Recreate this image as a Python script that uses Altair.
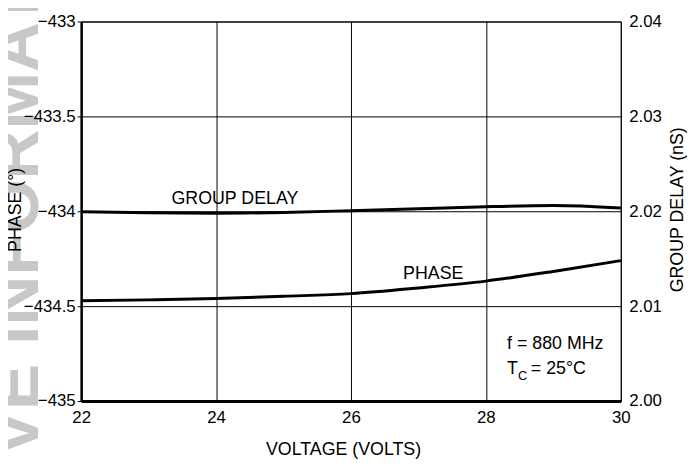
import altair as alt
import pandas as pd

# ---- data ----
voltage = [22, 23, 24, 25, 26, 27, 28, 29, 30]
phase_deg = [-434.472, -434.467, -434.460, -434.448, -434.434, -434.404, -434.368, -434.317, -434.260]
group_delay_ns = [2.01996, 2.01984, 2.01979, 2.01988, 2.02006, 2.02026, 2.02048, 2.02060, 2.02034]

x_ticks = [22, 24, 26, 28, 30]
phase_ticks = [-435, -434.5, -434, -433.5, -433]
delay_ticks = [2.00, 2.01, 2.02, 2.03, 2.04]

curve_text = ["GROUP DELAY", "PHASE"]
curve_x = [24.28, 27.22]
curve_y = [-433.936, -434.329]
cond_text = ["f = 880 MHz", "T", "= 25°C"]
cond_x = [28.315, 28.315, 28.667]
cond_y = [-434.700, -434.830, -434.830]
sub_text = ["C"]
sub_x = [28.476]
sub_y = [-434.866]

FONT = "Liberation Sans, Arial, sans-serif"

df = pd.DataFrame({"V": voltage, "phase": phase_deg, "delay": group_delay_ns})
curve_notes = pd.DataFrame({"t": curve_text, "x": curve_x, "y": curve_y})
cond_notes = pd.DataFrame({"t": cond_text, "x": cond_x, "y": cond_y})
subs = pd.DataFrame({"t": sub_text, "x": sub_x, "y": sub_y})

xscale = alt.Scale(domain=[22, 30], nice=False, zero=False)
yscale_phase = alt.Scale(domain=[-435, -433], nice=False, zero=False)
yscale_delay = alt.Scale(domain=[2.00, 2.04], nice=False, zero=False)

x_enc = alt.X("V:Q", scale=xscale, axis=alt.Axis(
    values=x_ticks, format="d", title="VOLTAGE (VOLTS)", grid=True, tickSize=0,
    labelPadding=9, domainWidth=3, titleX=265, titleY=54,
    titleAlign="center", titleBaseline="alphabetic", zindex=1))

wm = alt.Chart(pd.DataFrame({"w": ["ARCHIVE INFORMATION"]})).mark_text(
    angle=270, fontSize=70, font="Liberation Sans", fontWeight="bold",
    color="#c8c8c8", align="center", baseline="alphabetic"
).encode(x=alt.value(-44), y=alt.value(250), text="w:N")

phase_line = alt.Chart(df).mark_line(color="black", strokeWidth=3, interpolate="monotone").encode(
    x=x_enc,
    y=alt.Y("phase:Q", scale=yscale_phase, axis=alt.Axis(
        values=phase_ticks, format="~g", title="PHASE (°)", grid=True,
        tickSize=4, labelPadding=2, domainWidth=2.5, zindex=1,
        titleX=-61, titleY=190, titleBaseline="alphabetic", titleAngle=270)),
)

curve_layer = alt.Chart(curve_notes).mark_text(
    font=FONT, fontSize=18, color="black", baseline="middle", align="center").encode(
    x=alt.X("x:Q", scale=xscale),
    y=alt.Y("y:Q", scale=yscale_phase),
    text="t:N",
)

cond_layer = alt.Chart(cond_notes).mark_text(
    font=FONT, fontSize=18, color="black", baseline="middle", align="left").encode(
    x=alt.X("x:Q", scale=xscale),
    y=alt.Y("y:Q", scale=yscale_phase),
    text="t:N",
)

sub_layer = alt.Chart(subs).mark_text(
    font=FONT, fontSize=13, color="black", baseline="middle", align="left").encode(
    x=alt.X("x:Q", scale=xscale),
    y=alt.Y("y:Q", scale=yscale_phase),
    text="t:N",
)

delay_line = alt.Chart(df).mark_line(color="black", strokeWidth=3, interpolate="monotone").encode(
    x=alt.X("V:Q", scale=xscale),
    y=alt.Y("delay:Q", scale=yscale_delay, axis=alt.Axis(
        orient="right", values=delay_ticks, format=".2f", title="GROUP DELAY (nS)",
        grid=False, tickSize=0, labelPadding=8, domain=False, zindex=1,
        titleX=62, titleY=190, titleAngle=270, titleBaseline="alphabetic")),
)

left = alt.layer(wm, phase_line, curve_layer, cond_layer, sub_layer)
chart = alt.layer(left, delay_line).resolve_scale(y="independent").properties(
    width=546, height=384,
    autosize=alt.AutoSizeParams(type="none"),
    padding={"left": 74, "top": 11, "right": 67, "bottom": 57},
).configure_view(stroke="black", strokeWidth=1).configure_axis(
    labelFont=FONT, titleFont=FONT, labelFontSize=17, titleFontSize=18,
    titleFontWeight="normal", labelColor="black", titleColor="black",
    domainColor="black", gridColor="black", gridOpacity=1, gridWidth=1,
    tickColor="black", labelOverlap=False, labelFlush=False,
)

chart.save("out.html", embed_options={"renderer": "svg", "actions": False})
